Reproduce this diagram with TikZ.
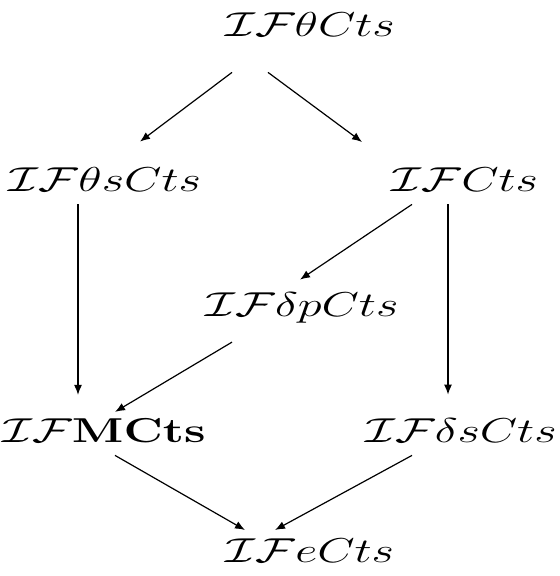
\documentclass[tikz,border=0pt]{standalone}
\usepackage{graphicx}
\usetikzlibrary{arrows.meta}
\newcommand{\catobj}[1]{\scalebox{1.4}[1]{$#1$}}
\begin{document}
\begin{tikzpicture}[x=0.5pt, y=-0.5pt, >={Latex[length=5pt,width=4pt]},
  obj/.style={anchor=base, inner sep=0pt, font=\LARGE},
  arr/.style={->, line width=0.6pt}]
    \useasboundingbox (0,0) rectangle (560,576);
    % Oggetti
    \node[obj] (ttc) at (310,37) {\catobj{\mathcal{IF}\theta Cts}};
    \node[obj] (tsc) at (105,192) {\catobj{\mathcal{IF}\theta sCts}};
    \node[obj] (fc) at (465,192) {\catobj{\mathcal{IF}Cts}};
    \node[obj] (dpc) at (302,316) {\catobj{\mathcal{IF}\delta pCts}};
    \node[obj] (mc) at (104,442) {\catobj{\mathcal{IF}\mathbf{MCts}}};
    \node[obj] (dsc) at (461,442) {\catobj{\mathcal{IF}\delta sCts}};
    \node[obj] (ec) at (310,562) {\catobj{\mathcal{IF}eCts}};

    % Frecce
    \draw[arr] ([shift={(-78,35)}]ttc.south) -- ([shift={(35,-26)}]tsc.north);
    \draw[arr] ([shift={(-42,35)}]ttc.south) -- ([shift={(-103,-26)}]fc.north);
    \draw[arr] ([shift={(-27,12)}]tsc.south) -- ([shift={(-26,-23)}]mc.north);
    \draw[arr] ([shift={(-17,12)}]fc.south) -- ([shift={(-13,-23)}]dsc.north);
    \draw[arr] ([shift={(-53,12)}]fc.south) -- ([shift={(-2,-12)}]dpc.north);
    \draw[arr] ([shift={(-70,19)}]dpc.south) -- ([shift={(11,-6)}]mc.north);
    \draw[arr] ([shift={(11,13)}]mc.south) -- ([shift={(-65,-8)}]ec.north);
    \draw[arr] ([shift={(-49,13)}]dsc.south) -- ([shift={(-35,-8)}]ec.north);
\end{tikzpicture}
\end{document}
